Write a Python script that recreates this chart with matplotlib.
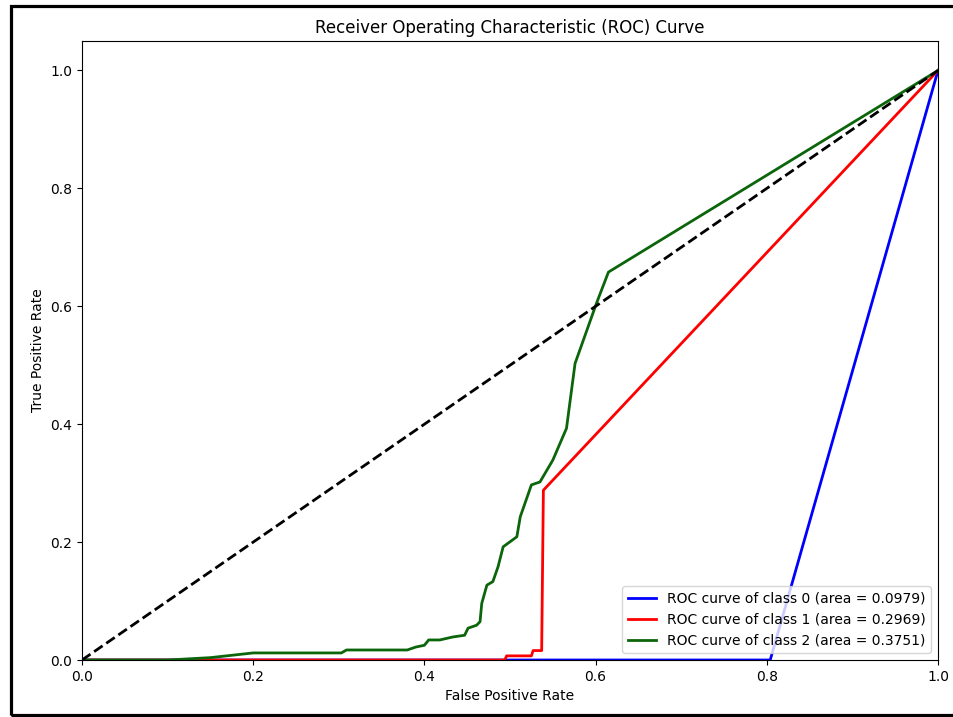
import matplotlib
matplotlib.use("Agg")
import matplotlib.pyplot as plt
from matplotlib.patches import Rectangle

# Class 0 ROC
fpr0 = [0.0, 0.804, 1.0]
tpr0 = [0.0, 0.0, 1.0]

# Class 1 ROC
fpr1 = [0.0, 0.494, 0.496, 0.525, 0.527, 0.537, 0.539, 1.0]
tpr1 = [0.0, 0.0, 0.007, 0.007, 0.016, 0.016, 0.288, 1.0]

# Class 2 ROC
fpr2 = [0.0, 0.10, 0.15, 0.20, 0.303, 0.309, 0.38, 0.39, 0.40, 0.405, 0.418,
        0.433, 0.447, 0.451, 0.461, 0.465, 0.467, 0.473, 0.480, 0.486, 0.492,
        0.508, 0.512, 0.525, 0.535, 0.550, 0.566, 0.576, 0.601, 0.615, 1.0]
tpr2 = [0.0, 0.0, 0.004, 0.012, 0.012, 0.017, 0.017, 0.022, 0.025, 0.034, 0.034,
        0.039, 0.042, 0.054, 0.059, 0.065, 0.096, 0.127, 0.133, 0.158, 0.192,
        0.209, 0.243, 0.297, 0.302, 0.339, 0.393, 0.503, 0.605, 0.658, 1.0]

areas = [0.0979, 0.2969, 0.3751]
colors = ["blue", "red", "#0b650b"]
title = "Receiver Operating Characteristic (ROC) Curve"

fig = plt.figure(figsize=(9.54, 7.17), dpi=100)
ax = fig.add_axes([82/954, 57/717, (938-82)/954, (660-41)/717])

for i, (f, t) in enumerate([(fpr0, tpr0), (fpr1, tpr1), (fpr2, tpr2)]):
    ax.plot(f, t, color=colors[i], lw=2,
            label=f"ROC curve of class {i} (area = {areas[i]:.4f})")
ax.plot([0, 1], [0, 1], "k--", lw=2)

ax.set_xlim(0.0, 1.0)
ax.set_ylim(0.0, 1.05)
ax.set_xlabel("False Positive Rate", fontsize=10)
ax.set_ylabel("True Positive Rate", fontsize=10)
ax.set_title(title, fontsize=12)
ax.tick_params(labelsize=10)
ax.legend(loc="lower right", fontsize=10)

# outer frame
fig.add_artist(Rectangle((11/954, 2/717), 1.0, 709/717, transform=fig.transFigure,
                         fill=False, edgecolor="black", lw=2.3, clip_on=False))

fig.savefig("out.png", dpi=100)
